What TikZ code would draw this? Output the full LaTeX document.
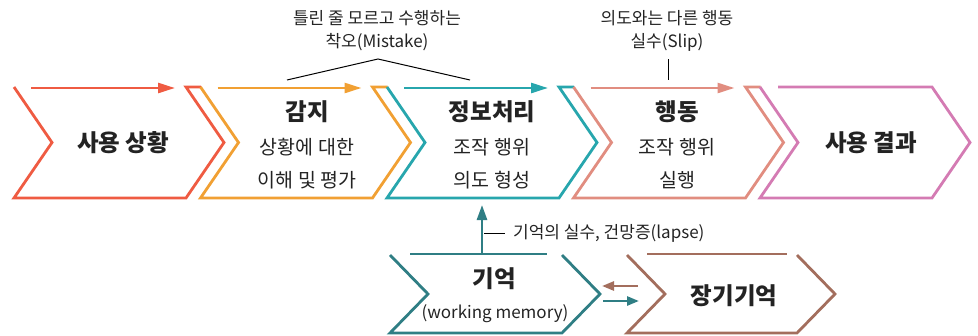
\documentclass[tikz,border=0pt]{standalone}
\usepackage{fontspec}
\setmainfont{Noto Sans CJK KR}
\usetikzlibrary{arrows.meta}
\definecolor{cred}{RGB}{239,91,66}
\definecolor{corange}{RGB}{241,160,51}
\definecolor{cteal}{RGB}{39,166,173}
\definecolor{csalmon}{RGB}{225,141,128}
\definecolor{cpurple}{RGB}{212,123,179}
\definecolor{cdteal}{RGB}{47,126,132}
\definecolor{cbrown}{RGB}{163,110,93}
\definecolor{ctext}{RGB}{35,35,35}
\tikzset{
  chevline/.style={line width=2.8pt, line join=miter},
  toparrow/.style={line width=2.6pt, -{Triangle[length=17pt,width=10pt]}},
  smallarrow/.style={line width=2.6pt, -{Triangle[length=12pt,width=9pt]}},
  title/.style={font=\bfseries\fontsize{23.5}{26}\selectfont, text=ctext, inner sep=0pt},
  sub/.style={font=\fontsize{19.5}{22}\selectfont, text=ctext, inner sep=0pt},
  note/.style={font=\fontsize{17}{23}\selectfont, text=ctext, inner sep=0pt, align=center},
  thin/.style={line width=1pt, black},
  pics/topchev/.style={code={
    \draw[chevline] (0,0) -- (38,55.5) -- (0,111) -- (172,111) -- (210,55.5) -- (172,0) -- (187,0);
    \coordinate (-as) at (17,1);
    \coordinate (-ae) at (161,1);
  }}
}
\begin{document}
\begin{tikzpicture}[x=1pt,y=-1pt]
\useasboundingbox (0,0) rectangle (978,335);

% top chevrons
\pic[cred] (ra) at (14,87) {topchev};
\pic[corange] (oa) at (200.5,87) {topchev};
\pic[cteal] (ta) at (387,87) {topchev};
\pic[csalmon] (sa) at (573.5,87) {topchev};
\draw[cpurple, chevline] (760,87) -- (798,142.5) -- (760,198) -- (932,198) -- (970,142.5) -- (932,87) -- (778,87);

\draw[cred, toparrow] (ra-as) -- (ra-ae);
\draw[corange, toparrow] (oa-as) -- (oa-ae);
\draw[cteal, toparrow] (ta-as) -- (ta-ae);
\draw[csalmon, toparrow] (sa-as) -- (sa-ae);

% top texts
\node[title] (n1) at (123,143) {사용 상황};
\node[title] (n2t) at (307,112) {감지};
\node[sub] (n2a) at (307,147) {상황에 대한};
\node[sub] (n2b) at (307,180) {이해 및 평가};
\node[title] (n3t) at (492,112) {정보처리};
\node[sub] (n3a) at (492,147) {조작 행위};
\node[sub] (n3b) at (492,180) {의도 형성};
\node[title] (n4t) at (677,112) {행동};
\node[sub] (n4a) at (677,147) {조작 행위};
\node[sub] (n4b) at (677,180) {실행};
\node[title] (n5) at (871,143) {사용 결과};

% annotations
\node[note] (mis) at (377,31) {틀린 줄 모르고 수행하는\\착오(Mistake)};
\node[note] (slip) at (667,31) {의도와는 다른 행동\\실수(Slip)};
\coordinate (misL) at (287,80);
\coordinate (misT) at (378,59);
\coordinate (misR) at (470,80);
\draw[thin] (misL) -- (misT) -- (misR);
\coordinate (slipT) at (668,59);
\coordinate (slipB) at (668,80);
\draw[thin] (slipT) -- (slipB);

% bottom chevrons
\draw[cdteal, chevline] (390,255) -- (428,294) -- (390,333) -- (562,333) -- (600,294) -- (562,255);
\coordinate (wmL) at (410,254);
\coordinate (wmR) at (547,254);
\draw[cdteal, chevline] (wmL) -- (wmR);
\draw[cbrown, chevline] (627,255) -- (665,294) -- (627,333) -- (797,333) -- (835,294) -- (797,255);
\coordinate (ltL) at (647,254);
\coordinate (ltR) at (787,254);
\draw[cbrown, chevline] (ltL) -- (ltR);

\node[title] (wm) at (494,279) {기억};
\node[sub, font=\fontsize{17}{20}\selectfont] (wm2) at (495,314) {(working memory)};
\node[title] (lt) at (734,296) {장기기억};

% vertical arrow
\coordinate (vb) at (482,254);
\coordinate (vt) at (482,205);
\draw[cdteal, line width=2.6pt, -{Triangle[length=15pt,width=10pt]}] (vb) -- (vt);
\coordinate (dashA) at (484,233);
\coordinate (dashB) at (505,233);
\draw[thin] (dashA) -- (dashB);
\node[note, anchor=west] (lapse) at (513,233) {기억의 실수, 건망증(lapse)};

% side arrows
\coordinate (b1) at (638,286);
\coordinate (b2) at (602,286);
\draw[cbrown, smallarrow] (b1) -- (b2);
\coordinate (t1) at (603,301);
\coordinate (t2) at (639,301);
\draw[cdteal, smallarrow] (t1) -- (t2);
\end{tikzpicture}
\end{document}
